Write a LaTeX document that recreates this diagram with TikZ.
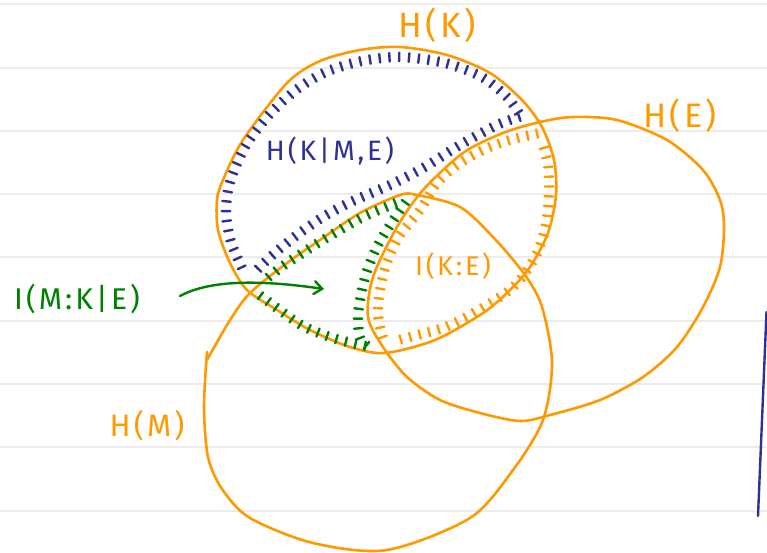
\documentclass[tikz,border=0pt]{standalone}
\usepackage{fontspec}
\setmainfont{Fira Sans}[LetterSpace=10.0]
\usetikzlibrary{decorations.pathreplacing,decorations.markings,arrows.meta}
\definecolor{kor}{RGB}{255,153,0}
\definecolor{kbl}{RGB}{46,49,146}
\definecolor{kgr}{RGB}{0,128,0}
\definecolor{krule}{RGB}{236,236,236}
\tikzset{
  ruleline/.style={krule,line width=2pt},
  setline/.style={kor,line width=2.6pt,line cap=round,line join=round},
  hatchline/.style={
    postaction={decorate,decoration={markings,
      mark=between positions 3pt and -2pt step #1 with {\draw[line width=2.4pt,line cap=round] (0,-4.3pt) -- (0,4.3pt);}}}},
  hatchline/.default=9.8pt,
  lbl/.style={inner sep=0pt,anchor=center},
}
\begin{document}
\begin{tikzpicture}[x=1pt,y=-1pt]
\useasboundingbox (0,0) rectangle (767,553);
\fill[white] (0,0) rectangle (767,553);
% ruled paper
\foreach \yy in {4,68,131,194,257,321,384,447,511}
  \draw[ruleline] (0,\yy) -- (767,\yy);
% blue stroke at right edge
\draw[kbl,line width=2.4pt,line cap=round] (766.5,312) -- (758,516);

% H(K)
\draw[setline] plot[smooth cycle] coordinates {(400,47) (447,55) (490,73) (522,100) (542,127) (554,160) (556,195) (548,233) (530,267) (510,290) (483,313) (435,340) (385,353) (350,347) (310,330) (277,310) (247,290) (230,263) (218,230) (217,200) (223,180) (243,140) (287,83) (320,61) (360,50)};
% H(E)
\draw[setline] plot[smooth cycle] coordinates {(573,117) (617,120) (667,140) (703,170) (720,200) (724,227) (720,267) (703,307) (677,347) (643,377) (600,400) (550,415) (520,421) (480,413) (440,400) (407,377) (383,347) (368,317) (373,277) (397,227) (423,190) (463,153) (503,133) (540,122)};
% H(M)
\draw[setline] plot[smooth] coordinates {(207,352) (204,407) (208,457) (222,489) (250,518) (313,543) (387,550) (470,518) (513,470) (543,420) (552,363) (542,307) (525,275) (493,237) (460,207) (417,195) (400,195) (360,213) (320,240) (287,263) (250,293) (230,320) (207,360)};

% blue hatching: H(K|M,E)
\path[kbl,hatchline] plot[smooth] coordinates {(243,270) (231,242) (226,212) (230,182) (245,147) (268,116) (296,90) (326,72) (362,61) (400,57) (445,63) (482,77) (507,97) (520,115)};
\path[kbl,hatchline] plot[smooth] coordinates {(522,116) (497,125) (460,145) (423,168) (390,185) (353,201) (323,217) (293,238) (267,260) (252,275)};
% green hatching: I(M:K|E)
\path[kgr,hatchline] plot[smooth] coordinates {(398,202) (363,217) (333,234) (307,250) (280,268) (262,283)};
\path[kgr,hatchline] plot[smooth] coordinates {(258,294) (277,308) (303,326) (333,338) (360,345) (372,347)};
\path[kgr,hatchline] plot[smooth] coordinates {(407,200) (392,222) (378,245) (368,268) (362,290) (358,315) (360,338) (370,348)};
% orange hatching: I(K:E)
\path[kor,hatchline] plot[smooth] coordinates {(540,133) (510,140) (483,150) (457,165) (437,183) (420,210) (400,235) (387,262) (380,290) (378,315) (383,338) (390,346)};
\path[kor,hatchline] plot[smooth] coordinates {(543,145) (548,165) (549,192) (546,225) (537,253) (520,280) (500,297) (470,315) (443,328) (410,337) (392,342)};

% labels
\node[lbl,text=kor,font=\fontsize{35}{40}\selectfont] (hk) at (437,25) {H(K)};
\node[lbl,text=kor,font=\fontsize{34}{40}\selectfont] (he) at (680,116) {H(E)};
\node[lbl,text=kor,font=\fontsize{31}{36}\selectfont] (hm) at (147,426) {H(M)};
\node[lbl,text=kbl,font=\fontsize{28}{34}\selectfont] (hkme) at (330,151) {H(K|M,E)};
\node[lbl,text=kor,font=\fontsize{27}{30}\selectfont] (ike) at (453,266) {I(K:E)};
\node[lbl,text=kgr,font=\fontsize{30}{36}\selectfont] (imke) at (77,299) {I(M:K|E)};

% arrow
\coordinate (arrs) at (180,296);
\coordinate (arre) at (324,289);
\draw[kgr,line width=2.4pt,line cap=round,-{Straight Barb[length=8pt,width=13pt,line cap=round]}] (arrs) .. controls (215,277) and (275,282) .. (arre);
\end{tikzpicture}
\end{document}
